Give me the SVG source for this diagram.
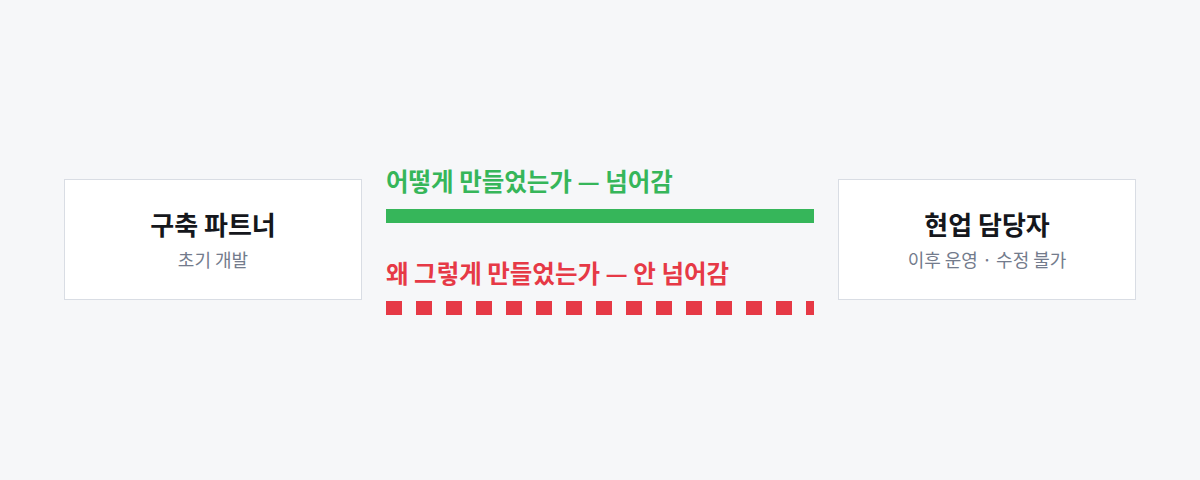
<svg xmlns="http://www.w3.org/2000/svg" width="1200" height="480" viewBox="0 0 1200 480">
  <style>
    .box { fill: #ffffff; stroke: #d9dde4; stroke-width: 1; }
    .title { font-family: "Noto Sans CJK KR", "Noto Sans", sans-serif; font-size: 26px; font-weight: 700; fill: #15171c; text-anchor: middle; }
    .sub { font-family: "Noto Sans CJK KR", "Noto Sans", sans-serif; font-size: 18px; font-weight: 400; fill: #737b8c; text-anchor: middle; }
    .lbl { font-family: "Noto Sans CJK KR", "Noto Sans", sans-serif; font-size: 24.5px; font-weight: 700; }
  </style>
  <rect x="0" y="0" width="1200" height="480" fill="#f6f7f9"/>
  <g id="node-partner">
    <rect class="box" x="64.5" y="179.5" width="297" height="120"/>
    <text class="title" x="213" y="235">구축 파트너</text>
    <text class="sub" x="213" y="267">초기 개발</text>
  </g>
  <g id="node-operator">
    <rect class="box" x="838.5" y="179.5" width="297" height="120"/>
    <text class="title" x="987" y="235">현업 담당자</text>
    <text class="sub" x="987" y="267">이후 운영 · 수정 불가</text>
  </g>
  <g id="connectors">
    <line x1="386" y1="216" x2="814" y2="216" stroke="#36b65a" stroke-width="14"/>
    <text class="lbl" x="386" y="191" fill="#36b65a">어떻게 만들었는가 — 넘어감</text>
    <line x1="386" y1="308" x2="814" y2="308" stroke="#e63946" stroke-width="14" stroke-dasharray="16 14"/>
    <text class="lbl" x="386" y="283" fill="#e63946">왜 그렇게 만들었는가 — 안 넘어감</text>
  </g>
</svg>
